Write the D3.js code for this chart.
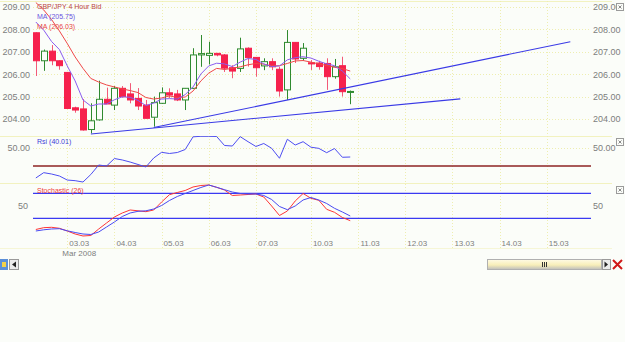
<!DOCTYPE html>
<html lang="en">
<head>
<meta charset="UTF-8">
<title>GBP/JPY 4 Hour Bid</title>
<script src="https://cdn.jsdelivr.net/npm/d3@7"></script>
<style>
    html, body {
        margin: 0;
        padding: 0;
        background-color: #fbfdf9;
    }

    svg {
        display: block;
        font-family: "Liberation Sans", Arial, sans-serif;
    }
</style>
</head>
<body>
<div id="chart"></div>
<script>
    // 4 hour bars, slot 0 = 03.03 00:00 (one extra bar on the Sunday before 10.03)
    const slots = d3.range(-4, 37);

    const openP  = [207.85, 206.60, 207.03, 206.60, 206.08, 204.50, 204.45, 203.53, 203.96, 204.88,
                    204.62, 205.37, 205.12, 204.92, 204.62, 204.08, 204.70, 205.17, 205.12, 204.85,
                    205.37, 206.86, 206.84, 206.93, 206.86, 206.29, 206.26, 207.16, 206.75, 206.37,
                    206.56, 206.22, 205.30, 207.42, 206.71, 206.51, 206.50, 206.48, 205.89, 206.38, 205.20];
    const highP  = [207.87, 207.10, 207.30, 206.62, 206.10, 204.55, 204.89, 204.70, 205.71, 205.40,
                    205.47, 205.47, 205.60, 205.38, 204.85, 205.00, 205.41, 205.37, 205.30, 205.37,
                    207.16, 207.75, 207.45, 206.95, 206.90, 206.40, 207.63, 207.20, 206.75, 206.71,
                    206.71, 206.33, 207.97, 207.42, 207.39, 206.63, 206.60, 206.71, 206.68, 206.78, 205.27];
    const lowP   = [205.92, 206.15, 206.40, 206.20, 204.47, 204.28, 203.48, 203.36, 203.93, 204.67,
                    204.40, 204.95, 204.70, 204.40, 204.03, 203.66, 204.67, 204.93, 204.80, 204.40,
                    205.34, 206.33, 206.44, 206.80, 206.10, 205.82, 206.10, 206.34, 205.89, 206.18,
                    206.18, 205.00, 204.85, 206.50, 206.60, 206.19, 206.20, 205.30, 205.80, 205.00, 204.66];
    const closeP = [206.60, 207.03, 206.60, 206.38, 204.47, 204.40, 203.51, 203.92, 204.88, 204.67,
                    205.37, 205.00, 204.85, 204.58, 204.03, 204.73, 205.17, 205.07, 204.85, 205.37,
                    206.86, 206.92, 206.93, 206.86, 206.27, 206.14, 207.13, 206.74, 206.29, 206.56,
                    206.33, 205.25, 207.42, 206.68, 207.16, 206.46, 206.34, 205.89, 206.33, 205.22, 205.23];

    // moving averages
    const maFast = [208.33, 207.97, 207.46, 207.10, 206.37, 205.70, 204.85, 204.58, 204.67, 204.67,
                    204.86, 204.99, 204.97, 204.83, 204.60, 204.71, 204.89, 204.91, 204.89, 205.09,
                    205.43, 206.01, 206.37, 206.49, 206.46, 206.34, 206.54, 206.70, 206.66, 206.46,
                    206.34, 206.37, 206.64, 206.74, 206.78, 206.72, 206.58, 206.46, 206.38, 206.14, 205.79];
    const maSlow = [209.20, 208.87, 208.44, 207.93, 207.37, 206.77, 206.26, 205.81, 205.65, 205.52,
                    205.43, 205.34, 205.27, 205.18, 204.96, 204.89, 204.94, 205.03, 204.96, 204.98,
                    205.25, 205.70, 206.05, 206.26, 206.21, 206.26, 206.33, 206.42, 206.48, 206.45,
                    206.37, 206.38, 206.48, 206.59, 206.61, 206.54, 206.46, 206.39, 206.31, 206.25, 206.14];

    const rsi = [16.7, 22.6, 21.1, 18.9, 14.4, 13.7, 12.2, 20.6, 31.1, 30.0,
                 38.3, 36.7, 34.4, 31.7, 28.9, 38.9, 45.2, 43.9, 45.0, 48.3,
                 62.4, 63.0, 63.0, 62.8, 52.8, 52.2, 62.6, 57.0, 51.7, 55.0,
                 49.7, 38.6, 59.7, 53.3, 57.0, 50.9, 49.6, 44.8, 49.4, 39.7, 40.0];

    const stochK = [12.1, 15.0, 15.6, 14.0, 9.7, 4.9, 1.7, 2.5, 12.9, 22.5,
                    32.1, 38.5, 43.3, 42.0, 40.6, 43.3, 56.1, 67.8, 71.3, 74.5,
                    80.1, 82.5, 83.3, 79.6, 75.3, 66.5, 67.3, 68.1, 68.9, 64.1,
                    49.7, 34.5, 41.7, 57.7, 69.7, 62.0, 58.8, 44.4, 39.6, 31.3, 26.2];
    const stochD = [9.7, 11.6, 12.9, 13.4, 10.0, 7.3, 4.9, 4.1, 8.1, 16.1,
                    24.1, 32.9, 38.5, 41.2, 42.0, 44.9, 50.5, 58.5, 64.9, 69.7,
                    74.5, 79.3, 83.3, 79.6, 75.8, 72.1, 69.7, 68.9, 68.9, 66.5,
                    60.1, 48.9, 43.8, 49.7, 59.3, 63.3, 59.3, 53.7, 46.0, 40.1, 33.7];

    // trend lines drawn on the chart (slot, price)
    const trendLow  = [{ slot: 3, price: 203.33 }, { slot: 50, price: 204.90 }];
    const trendHigh = [{ slot: 11, price: 203.62 }, { slot: 64, price: 207.45 }];

    const priceTicks = [204, 205, 206, 207, 208, 209];
    const dayLabels = ["03.03", "04.03", "05.03", "06.03", "07.03", "10.03", "11.03", "12.03", "13.03", "14.03", "15.03"];
    const daySlots = [0, 6, 12, 18, 24, 31, 37, 43, 49, 55, 61];

    const W = 625, H = 342;
    const left = 33, right = 591;
    const grid = "#eeeeb0";

    const svg = d3.select("#chart").append("svg")
        .attr("width", W)
        .attr("height", H);

    const x = d3.scaleLinear().domain([-4.36, 66.63]).range([left, right]);
    const y = d3.scaleLinear().domain([204, 209]).range([119, 7]);
    const yRsi = d3.scaleLinear().domain([30, 50]).range([166, 148]);
    const ySto = d3.scaleLinear().domain([30, 70]).range([218.3, 193.3]);

    // clip areas for each panel
    const defs = svg.append("defs");
    [["clipMain", 1, 136], ["clipRsi", 136, 183], ["clipSto", 183, 240]].forEach(c => {
        defs.append("clipPath").attr("id", c[0])
            .append("rect")
            .attr("x", left).attr("y", c[1])
            .attr("width", right - left).attr("height", c[2] - c[1]);
    });

    // panel separators
    [1, 136, 183].forEach(v => {
        svg.append("line")
            .attr("x1", 0).attr("x2", 612)
            .attr("y1", v + 0.5).attr("y2", v + 0.5)
            .attr("stroke", "#f2f2c0");
    });
    svg.append("line")
        .attr("x1", 0).attr("x2", 612)
        .attr("y1", 248.5).attr("y2", 248.5)
        .attr("stroke", "#f6f6d6");

    // dotted grid
    svg.append("g").selectAll("line")
        .data(priceTicks)
        .enter().append("line")
        .attr("x1", left).attr("x2", right)
        .attr("y1", d => Math.round(y(d)) + 0.5)
        .attr("y2", d => Math.round(y(d)) + 0.5)
        .attr("stroke", grid)
        .attr("stroke-dasharray", "1,2");

    svg.append("line")
        .attr("x1", left).attr("x2", right)
        .attr("y1", yRsi(50) + 0.5).attr("y2", yRsi(50) + 0.5)
        .attr("stroke", grid)
        .attr("stroke-dasharray", "1,2");

    svg.append("g").selectAll("line")
        .data(daySlots)
        .enter().append("line")
        .attr("x1", d => Math.round(x(d)) + 0.5)
        .attr("x2", d => Math.round(x(d)) + 0.5)
        .attr("y1", 1).attr("y2", 248)
        .attr("stroke", grid)
        .attr("stroke-dasharray", "1,2");

    // price axes
    function styleAxis(g, size) {
        g.select(".domain").remove();
        g.selectAll("text")
            .attr("fill", "#7d7d7d")
            .attr("font-size", size)
            .attr("font-family", "'Liberation Sans', Arial, sans-serif");
    }

    svg.append("g")
        .attr("transform", `translate(${left},0)`)
        .call(d3.axisLeft(y).tickValues(priceTicks).tickSize(0).tickPadding(3).tickFormat(d3.format(".2f")))
        .call(g => styleAxis(g, 9));

    svg.append("g")
        .attr("transform", `translate(${right},0)`)
        .call(d3.axisRight(y).tickValues(priceTicks).tickSize(0).tickPadding(2).tickFormat(d3.format(".2f")))
        .call(g => styleAxis(g, 9));

    svg.append("g")
        .attr("transform", `translate(${left},0)`)
        .call(d3.axisLeft(yRsi).tickValues([50]).tickSize(0).tickPadding(3).tickFormat(d3.format(".2f")))
        .call(g => styleAxis(g, 9));

    svg.append("g")
        .attr("transform", `translate(${right},0)`)
        .call(d3.axisRight(yRsi).tickValues([50]).tickSize(0).tickPadding(2).tickFormat(d3.format(".2f")))
        .call(g => styleAxis(g, 9));

    svg.append("g")
        .attr("transform", `translate(${left - 4},0)`)
        .call(d3.axisLeft(ySto).tickValues([50]).tickSize(0).tickPadding(1))
        .call(g => styleAxis(g, 9));

    svg.append("g")
        .attr("transform", `translate(${right},0)`)
        .call(d3.axisRight(ySto).tickValues([50]).tickSize(0).tickPadding(2))
        .call(g => styleAxis(g, 9));

    // date labels
    svg.append("g").selectAll("text")
        .data(dayLabels)
        .enter().append("text")
        .attr("x", (d, i) => x(daySlots[i]) + 12)
        .attr("y", 243)
        .attr("dy", "0.35em")
        .attr("text-anchor", "middle")
        .attr("font-size", 8)
        .attr("fill", "#7d7d7d")
        .text(d => d);

    svg.append("text")
        .attr("x", x(0) + 12)
        .attr("y", 253.5)
        .attr("dy", "0.35em")
        .attr("text-anchor", "middle")
        .attr("font-size", 8)
        .attr("fill", "#7d7d7d")
        .text("Mar 2008");

    // candles
    const candles = slots.map((s, i) => ({
        slot: s, o: openP[i], h: highP[i], l: lowP[i], c: closeP[i]
    }));

    const main = svg.append("g").attr("clip-path", "url(#clipMain)");
    const up = "#2f8a2f", down = "#f6214d";

    main.selectAll(".wick")
        .data(candles)
        .enter().append("line")
        .attr("class", "wick")
        .attr("x1", d => Math.round(x(d.slot)) + 0.5)
        .attr("x2", d => Math.round(x(d.slot)) + 0.5)
        .attr("y1", d => y(d.h))
        .attr("y2", d => y(d.l))
        .attr("stroke", d => d.c >= d.o ? up : "#f25a78");

    main.selectAll(".body")
        .data(candles)
        .enter().append("rect")
        .attr("class", "body")
        .attr("x", d => Math.round(x(d.slot)) - 2.5)
        .attr("y", d => y(Math.max(d.o, d.c)))
        .attr("width", 6)
        .attr("height", d => Math.max(1, Math.abs(y(d.o) - y(d.c))))
        .attr("fill", d => d.c >= d.o ? "#fbfdf9" : down)
        .attr("stroke", d => d.c >= d.o ? up : down)
        .attr("stroke-width", 1);

    const priceLine = vals => d3.line()
        .x((d, i) => x(slots[i]))
        .y(d => y(d))(vals);

    main.append("path")
        .attr("d", priceLine(maSlow))
        .attr("fill", "none")
        .attr("stroke", "#f04848")
        .attr("stroke-width", 1);

    main.append("path")
        .attr("d", priceLine(maFast))
        .attr("fill", "none")
        .attr("stroke", "#8a5cf0")
        .attr("stroke-width", 1);

    [trendLow, trendHigh].forEach(t => {
        main.append("line")
            .attr("x1", x(t[0].slot)).attr("y1", y(t[0].price))
            .attr("x2", x(t[1].slot)).attr("y2", y(t[1].price))
            .attr("stroke", "#3a3ae6")
            .attr("stroke-width", 1.1);
    });

    // RSI panel
    const rsiG = svg.append("g").attr("clip-path", "url(#clipRsi)");
    rsiG.append("line")
        .attr("x1", left).attr("x2", right)
        .attr("y1", yRsi(30)).attr("y2", yRsi(30))
        .attr("stroke", "#8e2323")
        .attr("stroke-width", 1.5);
    rsiG.append("path")
        .attr("d", d3.line().x((d, i) => x(slots[i])).y(d => yRsi(d))(rsi))
        .attr("fill", "none")
        .attr("stroke", "#4d4df2")
        .attr("stroke-width", 1);

    // Stochastic panel
    const stoG = svg.append("g").attr("clip-path", "url(#clipSto)");
    [30, 70].forEach(v => {
        stoG.append("line")
            .attr("x1", left).attr("x2", right)
            .attr("y1", ySto(v)).attr("y2", ySto(v))
            .attr("stroke", "#3a3af2")
            .attr("stroke-width", 1.3);
    });
    const stoLine = d3.line().x((d, i) => x(slots[i])).y(d => ySto(d));
    stoG.append("path")
        .attr("d", stoLine(stochK))
        .attr("fill", "none")
        .attr("stroke", "#ff3535")
        .attr("stroke-width", 1);
    stoG.append("path")
        .attr("d", stoLine(stochD))
        .attr("fill", "none")
        .attr("stroke", "#4a4af2")
        .attr("stroke-width", 1);

    // legends
    const legends = [
        ["GBP/JPY 4 Hour Bid", 7, "#b84444"],
        ["MA (205.75)", 16.7, "#6a55e0"],
        ["MA (206.03)", 26.7, "#e84545"],
        ["Rsi (40.01)", 141.7, "#3c3cd8"],
        ["Stochastic (26)", 190.7, "#f03a3a"]
    ];
    svg.append("g").selectAll("text")
        .data(legends)
        .enter().append("text")
        .attr("x", 37)
        .attr("y", d => d[1])
        .attr("dy", "0.35em")
        .attr("font-size", 7)
        .attr("fill", d => d[2])
        .text(d => d[0]);

    // close boxes on the right
    [3, 138, 186].forEach(v => {
        const b = svg.append("g").attr("transform", `translate(616,${v})`);
        b.append("rect").attr("x", 0.5).attr("y", 0.5).attr("width", 7).attr("height", 7)
            .attr("fill", "#fbfdf9").attr("stroke", "#9a9a9a");
        b.append("path").attr("d", "M2.5,2.5L5.5,5.5M5.5,2.5L2.5,5.5")
            .attr("stroke", "#8a8a8a");
    });

    // scroll bar row
    const sb = svg.append("g").attr("transform", "translate(0,259)");
    sb.append("rect").attr("x", 0).attr("y", 0).attr("width", 8).attr("height", 11).attr("fill", "#5b8fd8");
    sb.append("rect").attr("x", 2).attr("y", 3).attr("width", 4).attr("height", 5).attr("fill", "#f4d24a");
    sb.append("rect").attr("x", 9.5).attr("y", 0.5).attr("width", 9).attr("height", 10)
        .attr("fill", "#ececec").attr("stroke", "#9a9a9a");
    sb.append("path").attr("d", "M12,5.5L16,2.5L16,8.5Z").attr("fill", "#222");

    const grad = defs.append("linearGradient").attr("id", "track")
        .attr("x1", 0).attr("x2", 0).attr("y1", 0).attr("y2", 1);
    grad.append("stop").attr("offset", "0%").attr("stop-color", "#fffbe6");
    grad.append("stop").attr("offset", "55%").attr("stop-color", "#f8eeb8");
    grad.append("stop").attr("offset", "100%").attr("stop-color", "#bdbdbd");

    sb.append("rect").attr("x", 487.5).attr("y", 0.5).attr("width", 114).attr("height", 10)
        .attr("fill", "url(#track)").attr("stroke", "#b0b0b0");
    [542, 544, 546].forEach(v => {
        sb.append("line").attr("x1", v + 0.5).attr("x2", v + 0.5).attr("y1", 3).attr("y2", 8)
            .attr("stroke", "#333");
    });
    sb.append("rect").attr("x", 602.5).attr("y", 0.5).attr("width", 8).attr("height", 10)
        .attr("fill", "#ececec").attr("stroke", "#9a9a9a");
    sb.append("path").attr("d", "M608,5.5L604.5,2.5L604.5,8.5Z").attr("fill", "#222");
    sb.append("path").attr("d", "M613,1L622,10M622,1L613,10")
        .attr("stroke", "#d01818").attr("stroke-width", 2);
</script>
</body>
</html>
